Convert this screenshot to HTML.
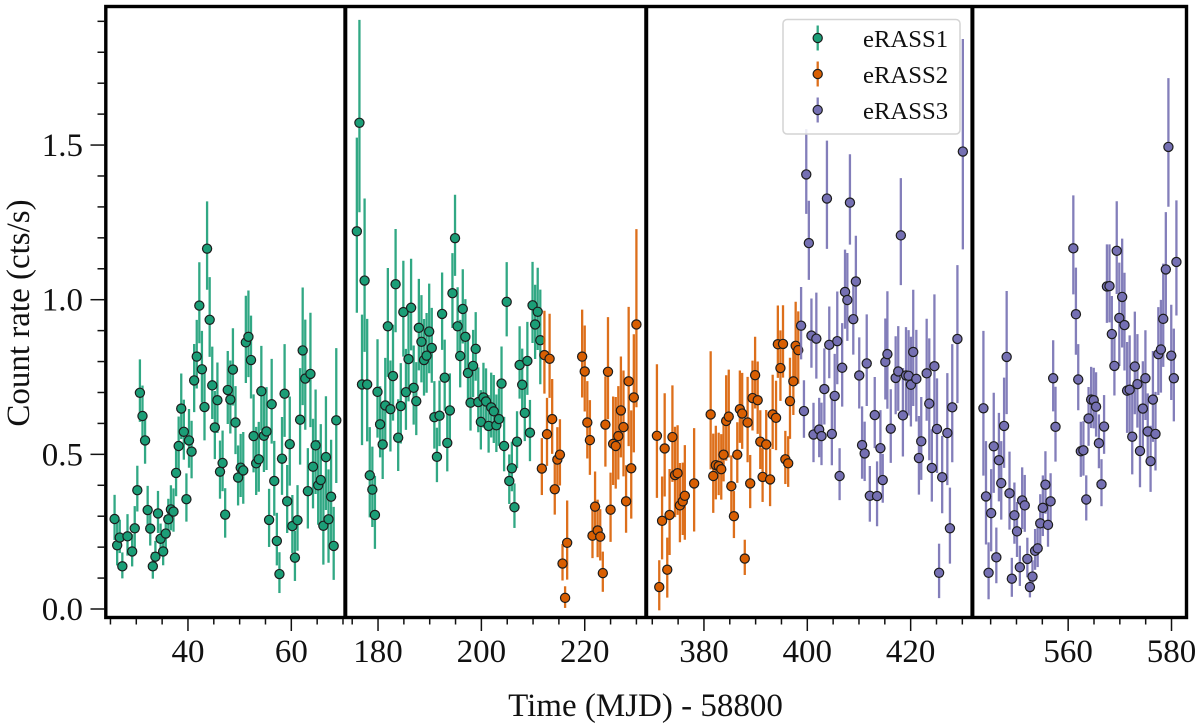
<!DOCTYPE html>
<html lang="en">
<head>
<meta charset="utf-8">
<title>eRASS count rate light curve</title>
<style>
html,body{margin:0;padding:0;background:#fff;width:1200px;height:728px;overflow:hidden}
svg{display:block;filter:blur(0.35px)}
text{font-family:"Liberation Serif",serif;fill:#111}
</style>
</head>
<body>
<svg id="chart" xmlns="http://www.w3.org/2000/svg" width="1200" height="728" viewBox="0 0 1200 728">
  <rect x="0" y="0" width="1200" height="728" fill="#fff"/>
  <g id="marks"></g>
  <g id="axes"></g>
  <text x="645.5" y="716" font-size="33" text-anchor="middle">Time (MJD) - 58800</text>
  <text transform="translate(29,313) rotate(-90)" font-size="33" text-anchor="middle">Count rate (cts/s)</text>
  <g>
    <rect x="783" y="19.5" width="177" height="114.5" rx="4" fill="#fff" fill-opacity="0.85" stroke="#d4d4d4" stroke-width="1.5"/>
    <g>
      <line x1="817.7" x2="817.7" y1="25.5" y2="50.5" stroke="#1b9e77" stroke-opacity="0.9" stroke-width="2.3"/>
      <circle cx="817.7" cy="38" r="4.6" fill="#1b9e77" stroke="#1c1c1c" stroke-width="1.2"/>
      <text x="863" y="47" font-size="24.7">eRASS1</text>
    </g>
    <g>
      <line x1="817.7" x2="817.7" y1="61.5" y2="86.5" stroke="#d95f02" stroke-opacity="0.9" stroke-width="2.3"/>
      <circle cx="817.7" cy="74" r="4.6" fill="#d95f02" stroke="#1c1c1c" stroke-width="1.2"/>
      <text x="863" y="83" font-size="24.7">eRASS2</text>
    </g>
    <g>
      <line x1="817.7" x2="817.7" y1="97.5" y2="122.5" stroke="#7570b3" stroke-opacity="0.9" stroke-width="2.3"/>
      <circle cx="817.7" cy="110" r="4.6" fill="#7570b3" stroke="#1c1c1c" stroke-width="1.2"/>
      <text x="863" y="119" font-size="24.7">eRASS3</text>
    </g>
  </g>
</svg>
<script>
// ---- axis data ----
const panelStart = [24.1, 173.67, 368.83, 541.47];
const panelEnd = [70.45, 231.9, 431.95, 582.9];
const xMajorTicks = [40, 60, 180, 200, 220, 380, 400, 420, 560, 580];
const xMinorStep = 5;
const yMajorTicks = [0, 0.5, 1, 1.5];
const yTickLabels = ['0.0', '0.5', '1.0', '1.5'];
const yMinorTicks = [0.1, 0.2, 0.3, 0.4, 0.6, 0.7, 0.8, 0.9, 1.1, 1.2, 1.3, 1.4, 1.6, 1.7, 1.8, 1.9];

// ---- eRASS1 ----
const erass1Time = [
25.8,26.3,26.8,27.3,28.3,29.2,29.7,30.2,30.7,31.2,31.7,32.2,32.7,33.2,33.7,34.2,34.7,35.2,35.7,36.2,
36.7,37.2,37.7,38.2,38.7,39.2,39.7,40.2,40.7,41.2,41.7,42.2,42.7,43.2,43.7,44.2,44.7,45.2,45.7,46.2,
46.7,47.2,47.7,48.2,48.7,49.2,49.7,50.2,50.7,51.2,51.7,52.2,52.7,53.2,53.7,54.2,54.7,55.2,55.7,56.2,
56.7,57.2,57.7,58.2,58.7,59.2,59.7,60.2,60.7,61.2,61.7,62.2,62.7,63.2,63.7,64.2,64.7,65.2,65.7,66.2,
66.7,67.2,67.7,68.2,68.7,
175.9,176.4,176.9,177.4,177.9,178.4,178.9,179.4,179.9,180.4,180.9,181.4,181.9,182.4,182.9,183.4,183.9,184.4,184.9,185.4,
185.9,186.4,186.9,187.4,187.9,188.4,188.9,189.4,189.9,190.4,190.9,191.4,191.9,192.4,192.9,193.4,193.9,194.4,194.9,195.4,
195.9,196.4,196.9,197.4,197.9,198.4,198.9,199.4,199.9,200.4,200.9,201.4,201.9,202.4,202.9,203.4,203.9,204.4,204.9,205.4,
205.9,206.4,206.9,207.4,207.9,208.4,208.9,209.4,209.9,210.4,210.9,211.4];
const erass1Rate = [
.291,.206,.231,.138,.235,.186,.261,.384,.699,.624,.545,.320,.260,.138,.169,.309,.227,.186,.244,.290,
.322,.315,.440,.527,.648,.573,.355,.545,.509,.739,.816,.981,.775,.653,1.165,.935,.723,.587,.675,.444,
.472,.305,.708,.677,.774,.603,.425,.457,.448,.862,.880,.805,.559,.471,.484,.704,.560,.574,.288,.662,
.414,.220,.113,.486,.696,.348,.533,.268,.166,.287,.612,.836,.745,.381,.760,.460,.529,.400,.417,.269,
.491,.290,.363,.204,.610,
1.221,1.572,.726,1.062,.726,.432,.386,.304,.702,.597,.532,.658,.914,.646,.753,1.050,.554,.656,.960,.701,
.808,.974,.715,.672,.909,.864,.805,.819,.897,.844,.620,.492,.625,.954,.748,.537,.642,1.021,1.199,.914,
.818,.970,.880,.763,.667,.786,.841,.669,.605,.684,.671,.592,.652,.639,.594,.614,.729,.527,.993,.414,
.455,.329,.541,.789,.725,.634,.802,.570,.982,.920,.961,.869];
const erass1Err = [
.073,.070,.054,.042,.067,.052,.067,.074,.101,.092,.081,.073,.059,.043,.048,.068,.046,.048,.056,.062,
.073,.070,.081,.089,.106,.097,.078,.095,.093,.110,.111,.131,.116,.116,.143,.129,.117,.110,.114,.094,
.098,.080,.118,.118,.125,.110,.097,.102,.116,.141,.140,.134,.126,.110,.113,.137,.126,.134,.094,.137,
.121,.085,.066,.126,.150,.110,.144,.094,.081,.106,.156,.190,.178,.130,.185,.145,.169,.137,.169,.135,
.184,.151,.172,.118,.218,
.283,.311,.211,.248,.198,.146,.130,.118,.159,.115,.120,.144,.176,.147,.155,.167,.116,.130,.155,.131,
.147,.148,.128,.118,.148,.141,.124,.129,.145,.121,.109,.088,.106,.125,.115,.099,.112,.121,.131,.118,
.109,.120,.114,.109,.097,.109,.111,.105,.096,.105,.100,.093,.105,.110,.093,.093,.112,.088,.120,.080,
.080,.072,.092,.117,.109,.098,.118,.099,.131,.120,.133,.153];

// ---- eRASS2 ----
const erass2Time = [
211.7,212.2,212.7,213.2,213.7,214.2,214.7,215.2,215.7,216.2,216.6,219.5,220,220.5,221,221.5,222,222.5,223,223.5,
224,224.5,225,225.5,226,226.5,227,227.5,228,228.5,229,229.5,230,
370.9,371.35,371.9,372.4,372.9,373.35,373.9,374.4,374.9,375.35,375.9,376.3,378.1,381.3,381.8,382.3,382.85,383.35,383.8,384.3,
384.8,385.3,385.8,386.45,386.95,387.4,387.9,388.45,388.95,389.4,389.9,390.4,390.9,391.35,392.05,392.8,393.3,393.95,394.3,394.8,
395.3,395.75,396.3,396.65,397.3,397.75,398.25];
const erass2Rate = [
.454,.821,.565,.809,.614,.387,.483,.499,.147,.036,.214,.816,.768,.603,.546,.237,.331,.254,.234,.116,
.596,.767,.321,.534,.527,.559,.642,.588,.348,.736,.455,.684,.920,
.560,.071,.285,.519,.127,.304,.556,.433,.439,.335,.348,.366,.406,.629,.430,.465,.462,.452,.499,.608,
.622,.397,.300,.499,.646,.632,.163,.603,.406,.682,.756,.675,.541,.427,.532,.419,.629,.618,.856,.779,
.857,.484,.471,.672,.736,.851,.837];
const erass2Err = [
.092,.134,.110,.136,.121,.088,.098,.107,.059,.035,.128,.142,.139,.125,.121,.078,.106,.093,.083,.065,
.146,.165,.112,.143,.148,.151,.163,.171,.109,.225,.175,.191,.288,
.216,.081,.134,.167,.097,.139,.156,.146,.145,.128,.117,.153,.167,.191,.128,.119,.101,.106,.093,.138,
.142,.093,.076,.098,.117,.123,.057,.138,.086,.113,.116,.117,.095,.087,.104,.093,.120,.112,.117,.114,
.117,.086,.082,.131,.117,.133,.117];

// ---- eRASS3 ----
const erass3Time = [
398.8,399.35,399.8,400.3,400.8,401.2,401.75,402.3,402.75,403.3,403.8,404.25,404.75,405.3,405.8,406.25,406.75,407.3,407.75,408.25,
408.9,409.4,410.05,410.6,411.1,411.5,412.1,413.05,413.5,414.15,414.6,415.1,415.5,416.15,417.1,417.6,418.1,418.5,419.1,419.6,
420.05,420.5,421.1,421.6,422.05,423.1,423.6,424.1,424.6,425.1,425.5,426.1,427.1,427.6,428.05,429.05,430.1,
543.6,544.1,544.6,545.1,545.6,546.1,546.6,547.05,547.6,548.1,548.65,549.1,549.6,550.1,550.65,551.1,551.6,552.1,552.6,553.1,
553.6,554.1,554.6,555.1,555.6,556.1,556.6,557.1,557.55,561,561.5,561.95,562.45,562.95,563.5,563.95,564.45,564.95,565.4,565.95,
566.45,566.95,567.5,568,568.45,568.95,569.4,569.9,570.45,570.9,571.4,571.9,572.4,572.9,573.4,573.9,574.45,574.95,575.4,575.95,
576.4,576.9,577.45,577.95,578.4,578.9,579.4,579.95,580.45,580.95];
const erass3Rate = [
.916,.640,1.405,1.183,.884,.564,.874,.580,.559,.711,1.327,.854,.566,.689,.866,.430,.780,1.025,.999,1.314,
.937,1.059,.755,.530,.503,.794,.366,.627,.365,.520,.417,.799,.824,.583,.747,.768,1.208,.626,.755,.754,
.725,.831,.744,.488,.542,.762,.664,.456,.785,.582,.117,.426,.569,.261,.652,.873,1.479,
.649,.364,.117,.310,.526,.167,.481,.407,.592,.815,.374,.098,.303,.251,.135,.351,.335,.162,.071,.105,
.188,.196,.277,.327,.402,.272,.348,.746,.589,1.166,.953,.742,.510,.513,.354,.616,.677,.675,.654,.536,
.403,.590,1.043,1.044,.889,.786,1.158,.941,1.009,.918,.706,.709,.557,.784,.727,.511,.648,.746,.574,.478,
.677,.566,.824,.839,.938,1.098,1.494,.819,.746,1.122];
const erass3Err = [
.117,.093,.137,.128,.112,.096,.139,.096,.101,.123,.175,.116,.109,.127,.150,.084,.135,.128,.142,.146,
.123,.138,.115,.117,.096,.148,.090,.115,.105,.115,.079,.131,.190,.119,.126,.137,.173,.143,.146,.138,
.145,.188,.148,.127,.134,.165,.197,.117,.217,.153,.088,.125,.181,.123,.191,.223,.340,
.234,.167,.092,.133,.162,.090,.143,.127,.146,.199,.126,.063,.099,.089,.065,.100,.092,.064,.036,.049,
.066,.065,.088,.098,.101,.076,.085,.115,.121,.160,.141,.107,.089,.088,.073,.095,.099,.098,.104,.087,
.076,.095,.127,.126,.115,.103,.150,.167,.176,.158,.147,.164,.131,.166,.151,.126,.143,.145,.115,.107,
.147,.127,.142,.150,.167,.173,.208,.154,.150,.186];

const seriesColors = ['#1b9e77', '#d95f02', '#7570b3'];

// ---- axis functions ----
const PLOT_LEFT = 105.8, PLOT_RIGHT = 1186.5, PLOT_TOP = 6.5, PLOT_BOTTOM = 617.5;
const Y_ZERO = 609, Y_PER_UNIT = 309.3;
const ERR_UP_FACTOR = 1.07, ERR_DOWN_FACTOR = 0.93;
const totalSpan = panelStart.reduce(function (s, a, i) { return s + panelEnd[i] - a; }, 0);
const pxPerDay = (PLOT_RIGHT - PLOT_LEFT) / totalSpan;

function xScale(t) {
  let offset = PLOT_LEFT;
  for (let i = 0; i < panelStart.length; i++) {
    if (t <= panelEnd[i] || i === panelStart.length - 1) {
      return offset + (t - panelStart[i]) * pxPerDay;
    }
    offset += (panelEnd[i] - panelStart[i]) * pxPerDay;
  }
}
function yScale(v) { return Y_ZERO - v * Y_PER_UNIT; }

const NS = 'http://www.w3.org/2000/svg';
function svgEl(tag, attrs, parent) {
  const el = document.createElementNS(NS, tag);
  for (const k in attrs) el.setAttribute(k, attrs[k]);
  parent.appendChild(el);
  return el;
}

// ---- series ----
const marksGroup = document.getElementById('marks');
function drawSeries(name, color, times, rates, errs) {
  const g = svgEl('g', {}, marksGroup);
  
  
  times.forEach(function (t, i) {
    const bar = svgEl('line', {
      x1: xScale(t), x2: xScale(t),
      y1: Math.max(yScale(rates[i] + errs[i] * ERR_UP_FACTOR), PLOT_TOP),
      y2: yScale(rates[i] - errs[i] * ERR_DOWN_FACTOR),
      stroke: color, 'stroke-opacity': 0.9, 'stroke-width': 2.3
    }, g);
    
    
  });
  times.forEach(function (t, i) {
    const pt = svgEl('circle', {
      cx: xScale(t), cy: yScale(rates[i]), r: 4.6,
      fill: color, stroke: '#1c1c1c', 'stroke-width': 1.2
    }, g);
    
    
  });
}
drawSeries('erass1', seriesColors[0], erass1Time, erass1Rate, erass1Err);
drawSeries('erass2', seriesColors[1], erass2Time, erass2Rate, erass2Err);
drawSeries('erass3', seriesColors[2], erass3Time, erass3Rate, erass3Err);

// ---- axes ----
const axesGroup = document.getElementById('axes');
const frame = svgEl('rect', {
  x: PLOT_LEFT, y: PLOT_TOP, width: PLOT_RIGHT - PLOT_LEFT, height: PLOT_BOTTOM - PLOT_TOP,
  fill: 'none', stroke: '#000', 'stroke-width': 3.4
}, axesGroup);



for (let i = 1; i < panelStart.length; i++) {
  const bx = xScale(panelStart[i]);
  const divider = svgEl('line', {
    x1: bx, x2: bx, y1: PLOT_TOP, y2: PLOT_BOTTOM, stroke: '#000', 'stroke-width': 4
  }, axesGroup);
  
  
}

function panelX(p, t) {
  let offset = PLOT_LEFT;
  for (let i = 0; i < p; i++) offset += (panelEnd[i] - panelStart[i]) * pxPerDay;
  return offset + (t - panelStart[p]) * pxPerDay;
}
panelStart.forEach(function (start, p) {
  const end = panelEnd[p];
  for (let v = Math.ceil(start / xMinorStep) * xMinorStep; v <= end; v += xMinorStep) {
    const major = xMajorTicks.indexOf(v) >= 0;
    const px = panelX(p, v);
    const tick = svgEl('line', {
      x1: px, x2: px, y1: PLOT_BOTTOM + 1.5, y2: major ? 631 : 624.5, stroke: '#111', 'stroke-width': 1.5
    }, axesGroup);
    
    
    if (major) {
      const label = svgEl('text', { x: px, y: 662, 'font-size': 33, 'text-anchor': 'middle' }, axesGroup);
      label.textContent = String(v);
      
      
    }
  }
});

yMajorTicks.forEach(function (v, i) {
  const py = yScale(v);
  const tick = svgEl('line', { x1: 90.5, x2: PLOT_LEFT - 1.5, y1: py, y2: py, stroke: '#111', 'stroke-width': 1.5 }, axesGroup);
  
  
  const label = svgEl('text', { x: 83, y: py + 11, 'font-size': 33, 'text-anchor': 'end' }, axesGroup);
  label.textContent = yTickLabels[i];
  
  
});
yMinorTicks.forEach(function (v) {
  const py = yScale(v);
  const tick = svgEl('line', { x1: 97.5, x2: PLOT_LEFT - 1.5, y1: py, y2: py, stroke: '#111', 'stroke-width': 1.5 }, axesGroup);
  
  
});
</script>
</body>
</html>
